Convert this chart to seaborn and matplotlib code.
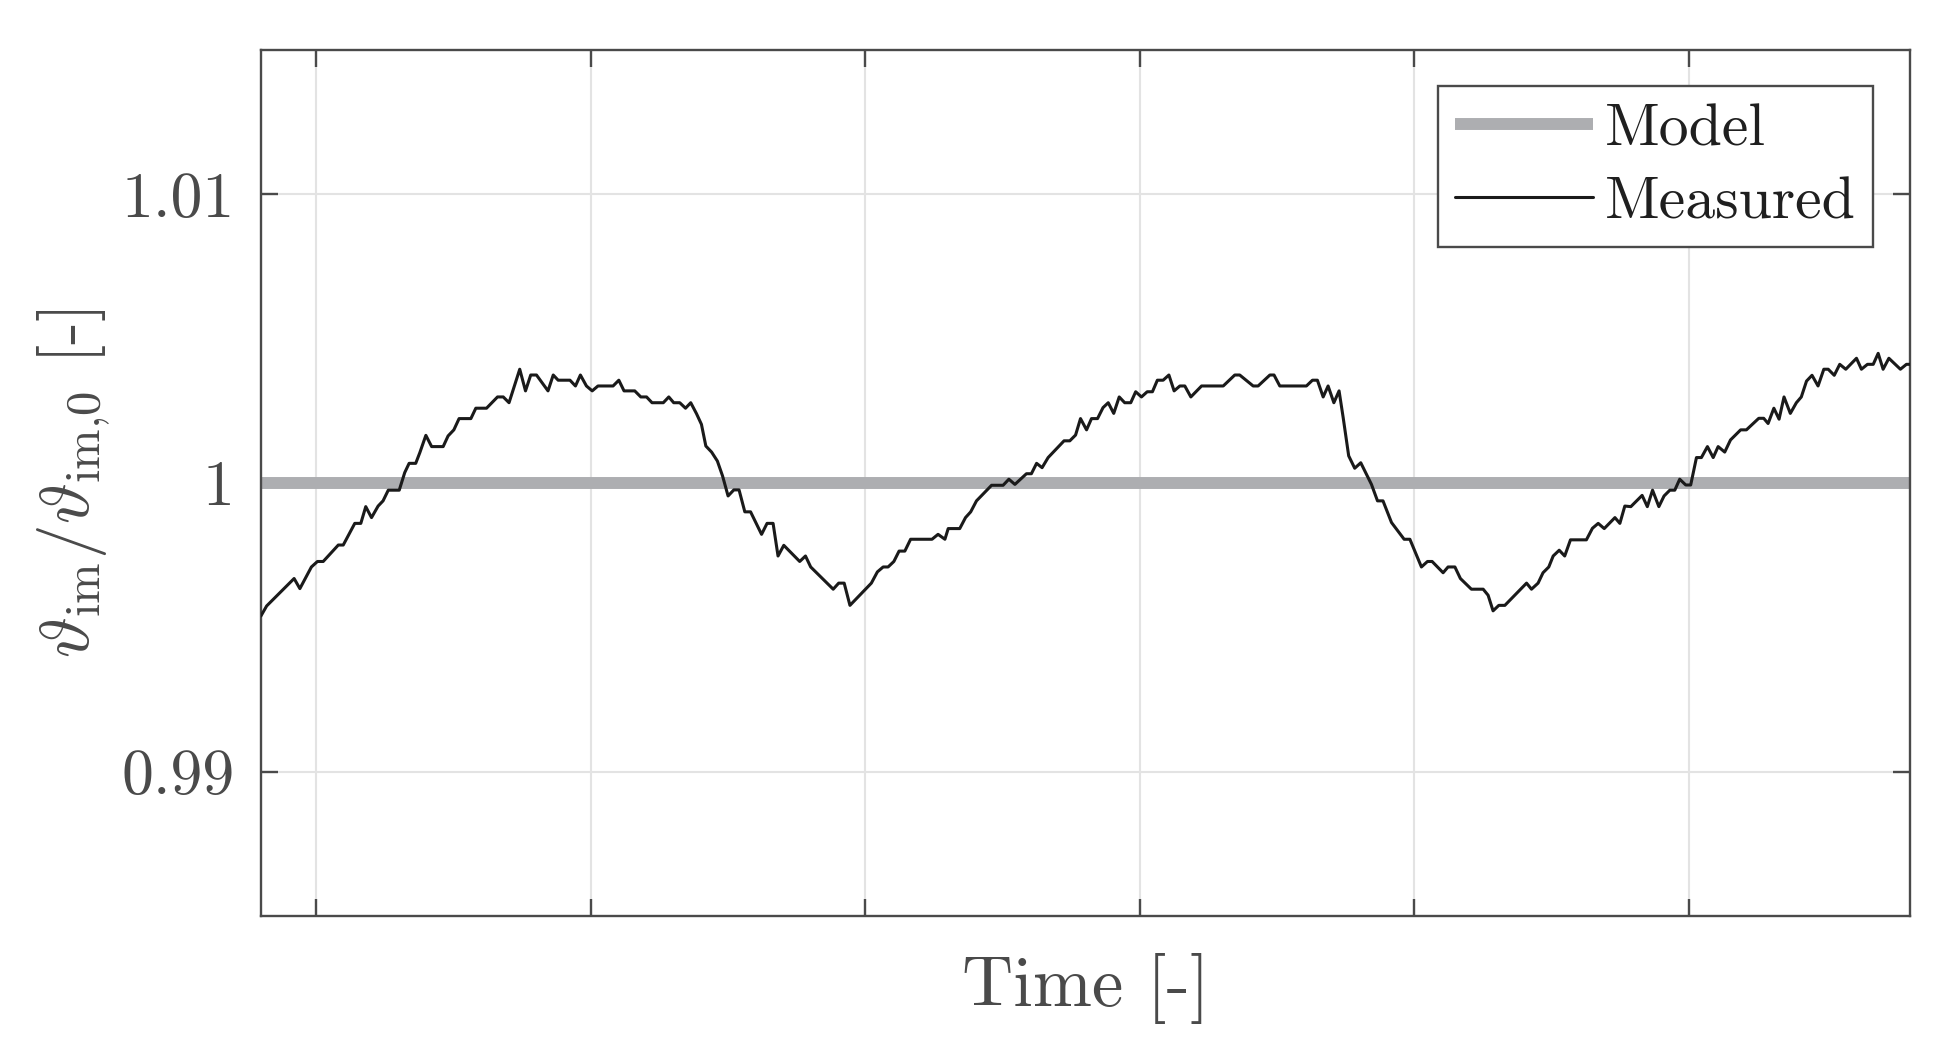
import matplotlib

matplotlib.use("Agg")
import matplotlib.pyplot as plt
import seaborn as sns

# Normalised temperature (x in tick units, ticks are unlabelled)
measured_time = [
    -0.202, -0.181, -0.081, -0.060, -0.018, 0.004, 0.025, 0.080, 0.098, 0.140,
    0.162, 0.180, 0.201, 0.225, 0.243, 0.262, 0.302, 0.322, 0.338, 0.362,
    0.377, 0.399, 0.420, 0.462, 0.480, 0.501, 0.520, 0.563, 0.581, 0.620,
    0.660, 0.681, 0.702, 0.741, 0.762, 0.781, 0.802, 0.844, 0.863, 0.881,
    0.924, 0.944, 0.962, 0.984, 1.005, 1.026, 1.051,
    1.081, 1.102, 1.121, 1.160, 1.182, 1.203, 1.223, 1.264, 1.284, 1.302,
    1.324, 1.345, 1.364, 1.385, 1.403, 1.419, 1.440, 1.461, 1.480, 1.500,
    1.521, 1.540, 1.561, 1.582, 1.622, 1.642, 1.664, 1.682, 1.703, 1.761,
    1.782, 1.801, 1.883, 1.903, 1.923, 1.944, 2.022, 2.044, 2.065, 2.083,
    2.104, 2.123, 2.144, 2.165, 2.243, 2.265, 2.290,
    2.302, 2.344, 2.365, 2.384, 2.405, 2.460, 2.502, 2.523, 2.545, 2.587,
    2.605, 2.624, 2.644, 2.666, 2.724, 2.745, 2.766, 2.784, 2.806, 2.824,
    2.846, 2.866, 2.885, 2.905, 2.925, 2.945, 2.967, 2.985, 3.006, 3.027,
    3.046, 3.064, 3.085, 3.106, 3.125, 3.146, 3.164, 3.186, 3.225, 3.304,
    3.346, 3.364, 3.413, 3.431, 3.474, 3.489, 3.510, 3.528,
    3.607, 3.629, 3.647, 3.668, 3.686, 3.707, 3.726, 3.741, 3.761, 3.783,
    3.805, 3.844, 3.866, 3.886, 3.917, 3.963, 3.984, 4.002, 4.026, 4.048,
    4.065, 4.105, 4.123, 4.148, 4.168, 4.208, 4.251, 4.269, 4.287, 4.308,
    4.330, 4.409, 4.427, 4.451, 4.469, 4.490, 4.506, 4.528, 4.548, 4.569,
    4.627, 4.649, 4.670, 4.692, 4.731, 4.749, 4.767,
    4.789, 4.830, 4.849, 4.868, 4.891, 4.910, 4.931, 4.949, 4.967, 4.989,
    5.007, 5.028, 5.046, 5.068, 5.089, 5.107, 5.131, 5.152, 5.189, 5.210,
    5.255, 5.273, 5.289, 5.310, 5.329, 5.347, 5.370, 5.392, 5.410, 5.429,
    5.449, 5.471, 5.492, 5.508, 5.530, 5.550, 5.572, 5.611, 5.629, 5.651,
    5.672, 5.690, 5.708, 5.729, 5.771, 5.793, 5.806,
]
measured_ratio = [
    0.99539, 0.99574, 0.99669, 0.99634, 0.99709, 0.99728, 0.99728, 0.99785, 0.99785, 0.99860,
    0.99860, 0.99918, 0.99880, 0.99920, 0.99938, 0.99975, 0.99975, 1.00036, 1.00068, 1.00068,
    1.00105, 1.00165, 1.00126, 1.00126, 1.00163, 1.00184, 1.00223, 1.00223, 1.00259, 1.00259,
    1.00298, 1.00298, 1.00278, 1.00394, 1.00319, 1.00374, 1.00374, 1.00319, 1.00374, 1.00356,
    1.00356, 1.00336, 1.00374, 1.00336, 1.00319, 1.00336, 1.00336,
    1.00336, 1.00356, 1.00319, 1.00319, 1.00298, 1.00298, 1.00278, 1.00278, 1.00298, 1.00278,
    1.00278, 1.00259, 1.00278, 1.00240, 1.00203, 1.00128, 1.00107, 1.00076, 1.00024, 0.99955,
    0.99976, 0.99976, 0.99900, 0.99900, 0.99822, 0.99860, 0.99860, 0.99747, 0.99784, 0.99728,
    0.99747, 0.99709, 0.99632, 0.99653, 0.99653, 0.99576, 0.99653, 0.99692, 0.99709, 0.99709,
    0.99728, 0.99764, 0.99764, 0.99805, 0.99805, 0.99822, 0.99805,
    0.99842, 0.99842, 0.99880, 0.99900, 0.99938, 0.99992, 0.99992, 1.00013, 0.99995, 1.00032,
    1.00032, 1.00068, 1.00053, 1.00088, 1.00146, 1.00146, 1.00166, 1.00223, 1.00184, 1.00223,
    1.00223, 1.00261, 1.00278, 1.00241, 1.00298, 1.00278, 1.00278, 1.00316, 1.00298, 1.00316,
    1.00316, 1.00356, 1.00356, 1.00374, 1.00319, 1.00336, 1.00336, 1.00298, 1.00336, 1.00336,
    1.00374, 1.00374, 1.00336, 1.00336, 1.00374, 1.00374, 1.00336, 1.00336,
    1.00336, 1.00356, 1.00356, 1.00298, 1.00336, 1.00278, 1.00319, 1.00226, 1.00094, 1.00051,
    1.00070, 0.99995, 0.99938, 0.99938, 0.99863, 0.99805, 0.99805, 0.99764, 0.99709, 0.99728,
    0.99728, 0.99689, 0.99709, 0.99709, 0.99669, 0.99632, 0.99632, 0.99611, 0.99557, 0.99576,
    0.99576, 0.99653, 0.99632, 0.99653, 0.99689, 0.99709, 0.99747, 0.99767, 0.99747, 0.99803,
    0.99803, 0.99843, 0.99860, 0.99842, 0.99880, 0.99860, 0.99920,
    0.99918, 0.99957, 0.99918, 0.99975, 0.99918, 0.99955, 0.99975, 0.99975, 1.00013, 0.99993,
    0.99993, 1.00088, 1.00088, 1.00126, 1.00088, 1.00126, 1.00107, 1.00149, 1.00184, 1.00184,
    1.00224, 1.00224, 1.00206, 1.00259, 1.00221, 1.00298, 1.00241, 1.00278, 1.00298, 1.00353,
    1.00373, 1.00336, 1.00394, 1.00394, 1.00373, 1.00411, 1.00394, 1.00432, 1.00394, 1.00411,
    1.00411, 1.00449, 1.00394, 1.00432, 1.00394, 1.00411, 1.00411,
]
model_time = [-0.202, 5.806]
model_ratio = [1.0, 1.0]

x_ticks = [0, 1, 2, 3, 4, 5]
y_ticks = [0.99, 1.0, 1.01]
y_tick_labels = ["0.99", "1", "1.01"]

TEXT = "#4a4a4a"

sns.set_style("ticks")
plt.rcParams["font.family"] = ["cmr10", "DejaVu Serif"]
plt.rcParams["mathtext.fontset"] = "cm"
plt.rcParams["axes.unicode_minus"] = False

fig = plt.figure(figsize=(19.47, 10.61), dpi=100)
ax = fig.add_axes([0.134, 0.1367, 0.847, 0.8162])

sns.lineplot(
    x=model_time, y=model_ratio, ax=ax, color="#adaeb1", linewidth=8.6,
    label="Model", zorder=2, solid_capstyle="butt",
)
sns.lineplot(
    x=measured_time, y=measured_ratio, ax=ax, color="#1a1a1a", linewidth=2.2,
    label="Measured", zorder=3, sort=False,
)

ax.set_xlim(-0.202, 5.806)
ax.set_ylim(0.985, 1.015)
ax.set_xticks(x_ticks)
ax.set_yticks(y_ticks)
ax.set_yticklabels(y_tick_labels)

ax.grid(True, color="#e3e3e3", linewidth=1.5)
ax.set_axisbelow(True)
for spine in ax.spines.values():
    spine.set_visible(True)
    spine.set_color(TEXT)
    spine.set_linewidth(1.7)

ax.tick_params(
    direction="in", length=12, width=1.7, top=True, right=True,
    labelbottom=False, colors=TEXT, labelsize=46, pad=19,
)

ax.set_xlabel("Time [-]", fontsize=51, color=TEXT, labelpad=27)
ax.set_ylabel(
    r"$\vartheta_{\rm im}/\vartheta_{\rm im{,}0}$ [-]",
    fontsize=50, color=TEXT, labelpad=6,
)

leg = ax.legend(
    loc="upper right", bbox_to_anchor=(0.9776, 0.9584), borderaxespad=0,
    fontsize=43, frameon=True, fancybox=False, framealpha=1, edgecolor=TEXT,
    handlelength=2.31, handletextpad=0.2, labelspacing=0.32, borderpad=0.29,
)
leg.get_frame().set_linewidth(1.7)
for t in leg.get_texts():
    t.set_color("#1f1f1f")

fig.savefig("out.png", dpi=100)
